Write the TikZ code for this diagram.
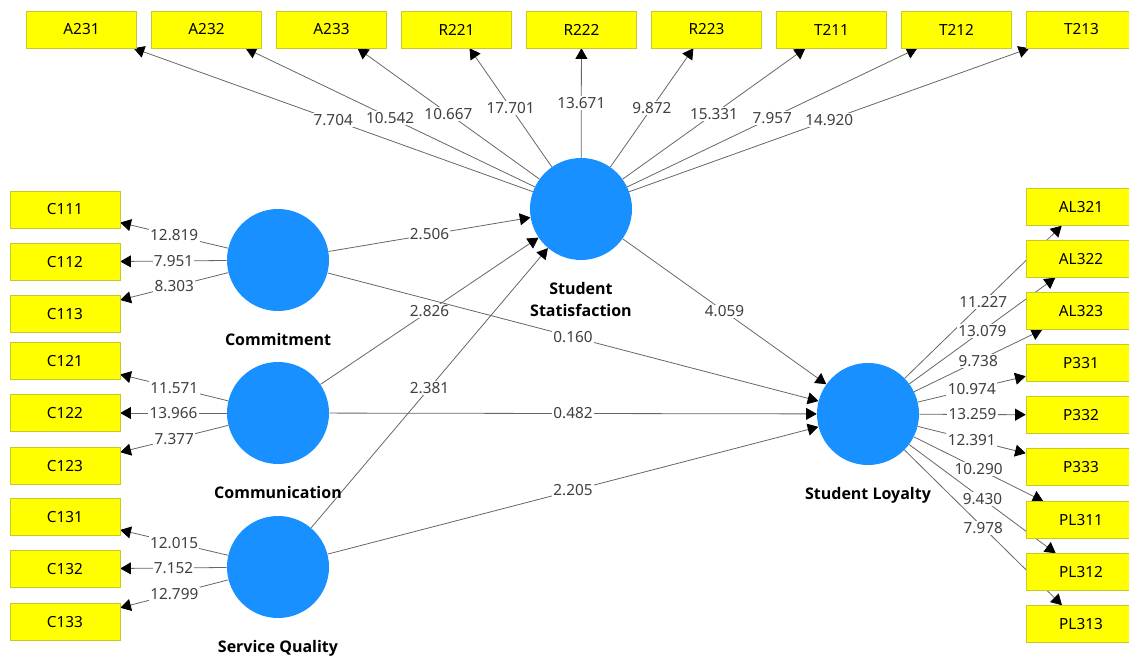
\documentclass[tikz,border=0pt]{standalone}
\usepackage{fontspec}
\setmainfont{Noto Sans}
\newfontfamily\lvfont{Open Sans}
\usetikzlibrary{arrows.meta,positioning,backgrounds}
\definecolor{lvblue}{RGB}{24,144,255}
\definecolor{mvyellow}{RGB}{255,255,0}
\definecolor{mvborder}{RGB}{200,200,40}

\begin{document}
\begin{tikzpicture}[x=0.75pt,y=-0.75pt,
    indicator/.style={draw=mvborder,fill=mvyellow,minimum width=82.5pt,
      minimum height=27.75pt,inner sep=0pt,font=\fontsize{11.5}{13}\selectfont},
    latent/.style={circle,fill=lvblue,minimum size=76.5pt,inner sep=0pt},
    lvname/.style={font=\lvfont\fontsize{12}{17}\selectfont\bfseries,inner sep=0pt,align=center},
    link/.style={draw=black!60,line width=0.6pt,
      -{Triangle[width=9pt,length=8pt,color=black]}},
    tval/.style={fill=white,inner sep=1pt,text=black!75,font=\fontsize{11.5}{13}\selectfont}]
  \useasboundingbox (0,0) rectangle (1129,659);

  % latent variables
  \node[latent] (commit) at (278,260) {};
  \node[latent] (commun) at (278,413) {};
  \node[latent] (servq) at (278,567) {};
  \node[latent] (satis) at (581,209) {};
  \node[latent] (loyal) at (868,414) {};
  \node[lvname,below=16pt of commit] {Commitment};
  \node[lvname,below=16pt of commun] {Communication};
  \node[lvname,below=16pt of servq] {Service Quality};
  \node[lvname,below=16pt of satis] {Student\\Statisfaction};
  \node[lvname,below=16pt of loyal] {Student Loyalty};

  % indicators, top
  \node[indicator] (a231) at (81.5,29.5) {A231};
  \node[indicator] (a232) at (206.5,29.5) {A232};
  \node[indicator] (a233) at (331.5,29.5) {A233};
  \node[indicator] (r221) at (456.5,29.5) {R221};
  \node[indicator] (r222) at (581.5,29.5) {R222};
  \node[indicator] (r223) at (706.5,29.5) {R223};
  \node[indicator] (t211) at (831.5,29.5) {T211};
  \node[indicator] (t212) at (956.5,29.5) {T212};
  \node[indicator] (t213) at (1081.5,29.5) {T213};

  % indicators, left
  \node[indicator] (c111) at (65,209.5) {C111};
  \node[indicator] (c112) at (65,262) {C112};
  \node[indicator] (c113) at (65,314) {C113};
  \node[indicator] (c121) at (65,361) {C121};
  \node[indicator] (c122) at (65,413) {C122};
  \node[indicator] (c123) at (65,466) {C123};
  \node[indicator] (c131) at (65,517) {C131};
  \node[indicator] (c132) at (65,569) {C132};
  \node[indicator] (c133) at (65,622) {C133};

  % indicators, right
  \node[indicator] (al321) at (1081,207) {AL321};
  \node[indicator] (al322) at (1081,259) {AL322};
  \node[indicator] (al323) at (1081,311) {AL323};
  \node[indicator] (p331) at (1081,363) {P331};
  \node[indicator] (p332) at (1081,415) {P332};
  \node[indicator] (p333) at (1081,467) {P333};
  \node[indicator] (pl311) at (1081,520) {PL311};
  \node[indicator] (pl312) at (1081,572) {PL312};
  \node[indicator] (pl313) at (1081,624) {PL313};

  \begin{pgfonlayer}{background}
    % outer loadings
    \draw[link] (satis) -- node[tval] {7.704} (a231);
    \draw[link] (satis) -- node[tval] {10.542} (a232);
    \draw[link] (satis) -- node[tval] {10.667} (a233);
    \draw[link] (satis) -- node[tval] {17.701} (r221);
    \draw[link] (satis) -- node[tval] {13.671} (r222);
    \draw[link] (satis) -- node[tval] {9.872} (r223);
    \draw[link] (satis) -- node[tval] {15.331} (t211);
    \draw[link] (satis) -- node[tval] {7.957} (t212);
    \draw[link] (satis) -- node[tval] {14.920} (t213);
    \draw[link] (commit) -- node[tval] {12.819} (c111);
    \draw[link] (commit) -- node[tval] {7.951} (c112);
    \draw[link] (commit) -- node[tval] {8.303} (c113);
    \draw[link] (commun) -- node[tval] {11.571} (c121);
    \draw[link] (commun) -- node[tval] {13.966} (c122);
    \draw[link] (commun) -- node[tval] {7.377} (c123);
    \draw[link] (servq) -- node[tval] {12.015} (c131);
    \draw[link] (servq) -- node[tval] {7.152} (c132);
    \draw[link] (servq) -- node[tval] {12.799} (c133);
    \draw[link] (loyal) -- node[tval] {11.227} (al321);
    \draw[link] (loyal) -- node[tval] {13.079} (al322);
    \draw[link] (loyal) -- node[tval] {9.738} (al323);
    \draw[link] (loyal) -- node[tval] {10.974} (p331);
    \draw[link] (loyal) -- node[tval] {13.259} (p332);
    \draw[link] (loyal) -- node[tval] {12.391} (p333);
    \draw[link] (loyal) -- node[tval] {10.290} (pl311);
    \draw[link] (loyal) -- node[tval] {9.430} (pl312);
    \draw[link] (loyal) -- node[tval] {7.978} (pl313);
    % inner paths
    \draw[link] (commit) -- node[tval] {2.506} (satis);
    \draw[link] (commun) -- node[tval] {2.826} (satis);
    \draw[link] (servq) -- node[tval] {2.381} (satis);
    \draw[link] (commit) -- node[tval] {0.160} (loyal);
    \draw[link] (commun) -- node[tval] {0.482} (loyal);
    \draw[link] (servq) -- node[tval] {2.205} (loyal);
    \draw[link] (satis) -- node[tval] {4.059} (loyal);
  \end{pgfonlayer}
\end{tikzpicture}
\end{document}
